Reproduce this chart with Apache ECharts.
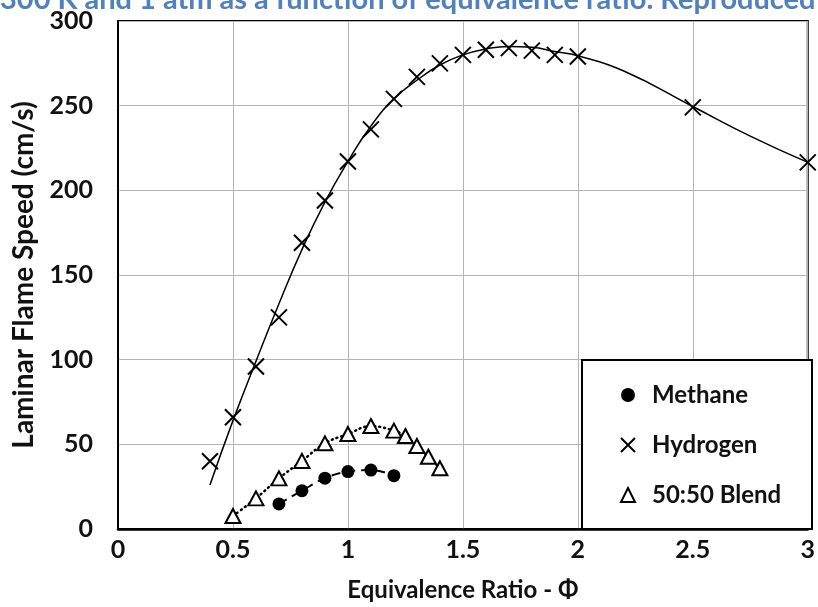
<!DOCTYPE html>
<html>
<head>
<meta charset="utf-8">
<script src="https://cdn.jsdelivr.net/npm/echarts@6/dist/echarts.min.js"></script>
<style>
html,body{margin:0;padding:0;background:#fff;}
#chart{width:818px;height:607px;}
</style>
</head>
<body>
<div id="chart"></div>
<script>
// ---- data ----
const titleText = '300 K and 1 atm as a function of equivalence ratio. Reproduced';
const xTickLabels = ['0', '0.5', '1', '1.5', '2', '2.5', '3'];
const yTickLabels = ['0', '50', '100', '150', '200', '250', '300'];

const phiHydrogen = [0.4, 0.5, 0.6, 0.7, 0.8, 0.9, 1.0, 1.1, 1.2, 1.3, 1.4, 1.5, 1.6, 1.7, 1.8, 1.9, 2.0, 2.5, 3.0];
const hydrogen    = [40, 66, 96, 125, 169, 194, 217, 236, 254, 267, 275, 280, 283, 284, 282.5, 280, 279, 249, 216.5];

const phiHydrogenFit = [0.4, 0.5, 0.6, 0.7, 0.8, 0.9, 1.0, 1.1, 1.2, 1.3, 1.4, 1.5, 1.6, 1.7, 1.8, 1.9, 2.0, 2.2, 2.5, 2.75, 3.0];
const hydrogenFit    = [26, 64, 99, 133, 165, 193, 217, 238, 254, 265, 274, 280, 283.5, 285, 284.5, 282, 279.5, 270.5, 249.5, 232, 216.5];

const phiMethane = [0.7, 0.8, 0.9, 1.0, 1.1, 1.2];
const methane    = [14.8, 22.6, 30, 33.9, 34.8, 31.5];

const phiBlend = [0.5, 0.6, 0.7, 0.8, 0.9, 1.0, 1.1, 1.2, 1.25, 1.3, 1.35, 1.4];
const blend    = [7.7, 18.1, 29.9, 40.2, 50.6, 56.1, 60.8, 58.1, 54.9, 49, 42.7, 35.9];

const seriesNames = ['Methane', 'Hydrogen', '50:50 Blend'];

// ---- build chart ----
const pair = (xs, ys) => xs.map((x, i) => [x, ys[i]]);
const FONT = 'Lato, "Open Sans", sans-serif';
const crossPath = 'path://M0,0L10,10M10,0L0,10';

const chart = echarts.init(document.getElementById('chart'), null, {renderer: 'canvas'});
chart.setOption({
  animation: false,
  backgroundColor: '#fff',
  textStyle: {fontFamily: FONT},
  grid: {left: 118, top: 21, right: 6, bottom: 78, show: true, borderColor: '#000', borderWidth: 2, backgroundColor: 'transparent'},
  xAxis: {
    type: 'value', min: 0, max: 3, interval: 0.5,
    name: 'Equivalence Ratio - \u03A6', nameLocation: 'middle', nameGap: 49,
    nameTextStyle: {fontFamily: FONT, fontWeight: 'bold', fontSize: 24, color: '#111'},
    axisLine: {show: true, lineStyle: {color: '#000', width: 2.5}},
    axisTick: {show: false},
    axisLabel: {margin: 8, fontFamily: FONT, fontWeight: 'bold', fontSize: 25, color: '#111',
      formatter: v => xTickLabels[Math.round(v / 0.5)]},
    splitLine: {show: true, lineStyle: {color: '#b4b4b4', width: 1}}
  },
  yAxis: {
    type: 'value', min: 0, max: 300, interval: 50,
    name: 'Laminar Flame Speed (cm/s)', nameLocation: 'middle', nameGap: 80, nameRotate: 90,
    nameTextStyle: {fontFamily: FONT, fontWeight: 'bold', fontSize: 28, color: '#111'},
    axisLine: {show: true, lineStyle: {color: '#000', width: 2}},
    axisTick: {show: false},
    axisLabel: {margin: 25, fontFamily: FONT, fontWeight: 'bold', fontSize: 25, color: '#111',
      formatter: v => yTickLabels[Math.round(v / 50)]},
    splitLine: {show: true, lineStyle: {color: '#b4b4b4', width: 1}}
  },
  legend: {
    orient: 'vertical', left: 620, top: 383, padding: 0,
    itemWidth: 14, itemHeight: 14, itemGap: 26,
    selectedMode: false,
    textStyle: {fontFamily: FONT, fontWeight: 'bold', fontSize: 24, color: '#111', lineHeight: 24, padding: [0, 0, 0, 12]},
    data: [
      {name: seriesNames[0], icon: 'circle', itemStyle: {color: '#000', borderWidth: 0}},
      {name: seriesNames[1], icon: crossPath, itemStyle: {color: 'transparent', borderColor: '#000', borderWidth: 2}},
      {name: seriesNames[2], icon: 'triangle', itemStyle: {color: '#fff', borderColor: '#000', borderWidth: 2}}
    ]
  },
  graphic: [
    {type: 'rect', z: 3, shape: {x: 582, y: 360, width: 230, height: 169},
     style: {fill: '#fff', stroke: '#000', lineWidth: 2}},
    {type: 'text', z: 5, x: 0, y: 14,
     style: {text: titleText, fill: '#4f81bd', font: 'bold 29px ' + FONT, verticalAlign: 'bottom', align: 'left'}}
  ],
  series: [
    {
      name: 'Hydrogen fit', type: 'line', data: pair(phiHydrogenFit, hydrogenFit),
      smooth: 0.5, showSymbol: false, symbol: 'none', silent: true, z: 2,
      lineStyle: {color: '#000', width: 1.5}
    },
    {
      name: seriesNames[1], type: 'scatter', data: pair(phiHydrogen, hydrogen),
      symbol: crossPath, symbolSize: 16, z: 3,
      itemStyle: {color: 'transparent', borderColor: '#000', borderWidth: 2, opacity: 1}
    },
    {
      name: seriesNames[0], type: 'line', data: pair(phiMethane, methane),
      smooth: 0.4, symbol: 'circle', symbolSize: 13, z: 3,
      itemStyle: {color: '#000', borderWidth: 0, opacity: 1},
      lineStyle: {color: '#000', width: 2, type: [9, 6]}
    },
    {
      name: seriesNames[2], type: 'line', data: pair(phiBlend, blend),
      smooth: 0.4, symbol: 'triangle', symbolSize: [15, 14], z: 3,
      itemStyle: {color: '#fff', borderColor: '#000', borderWidth: 2, opacity: 1},
      lineStyle: {color: '#000', width: 2.5, type: [1, 4], cap: 'round'}
    }
  ]
});
</script>
</body>
</html>
